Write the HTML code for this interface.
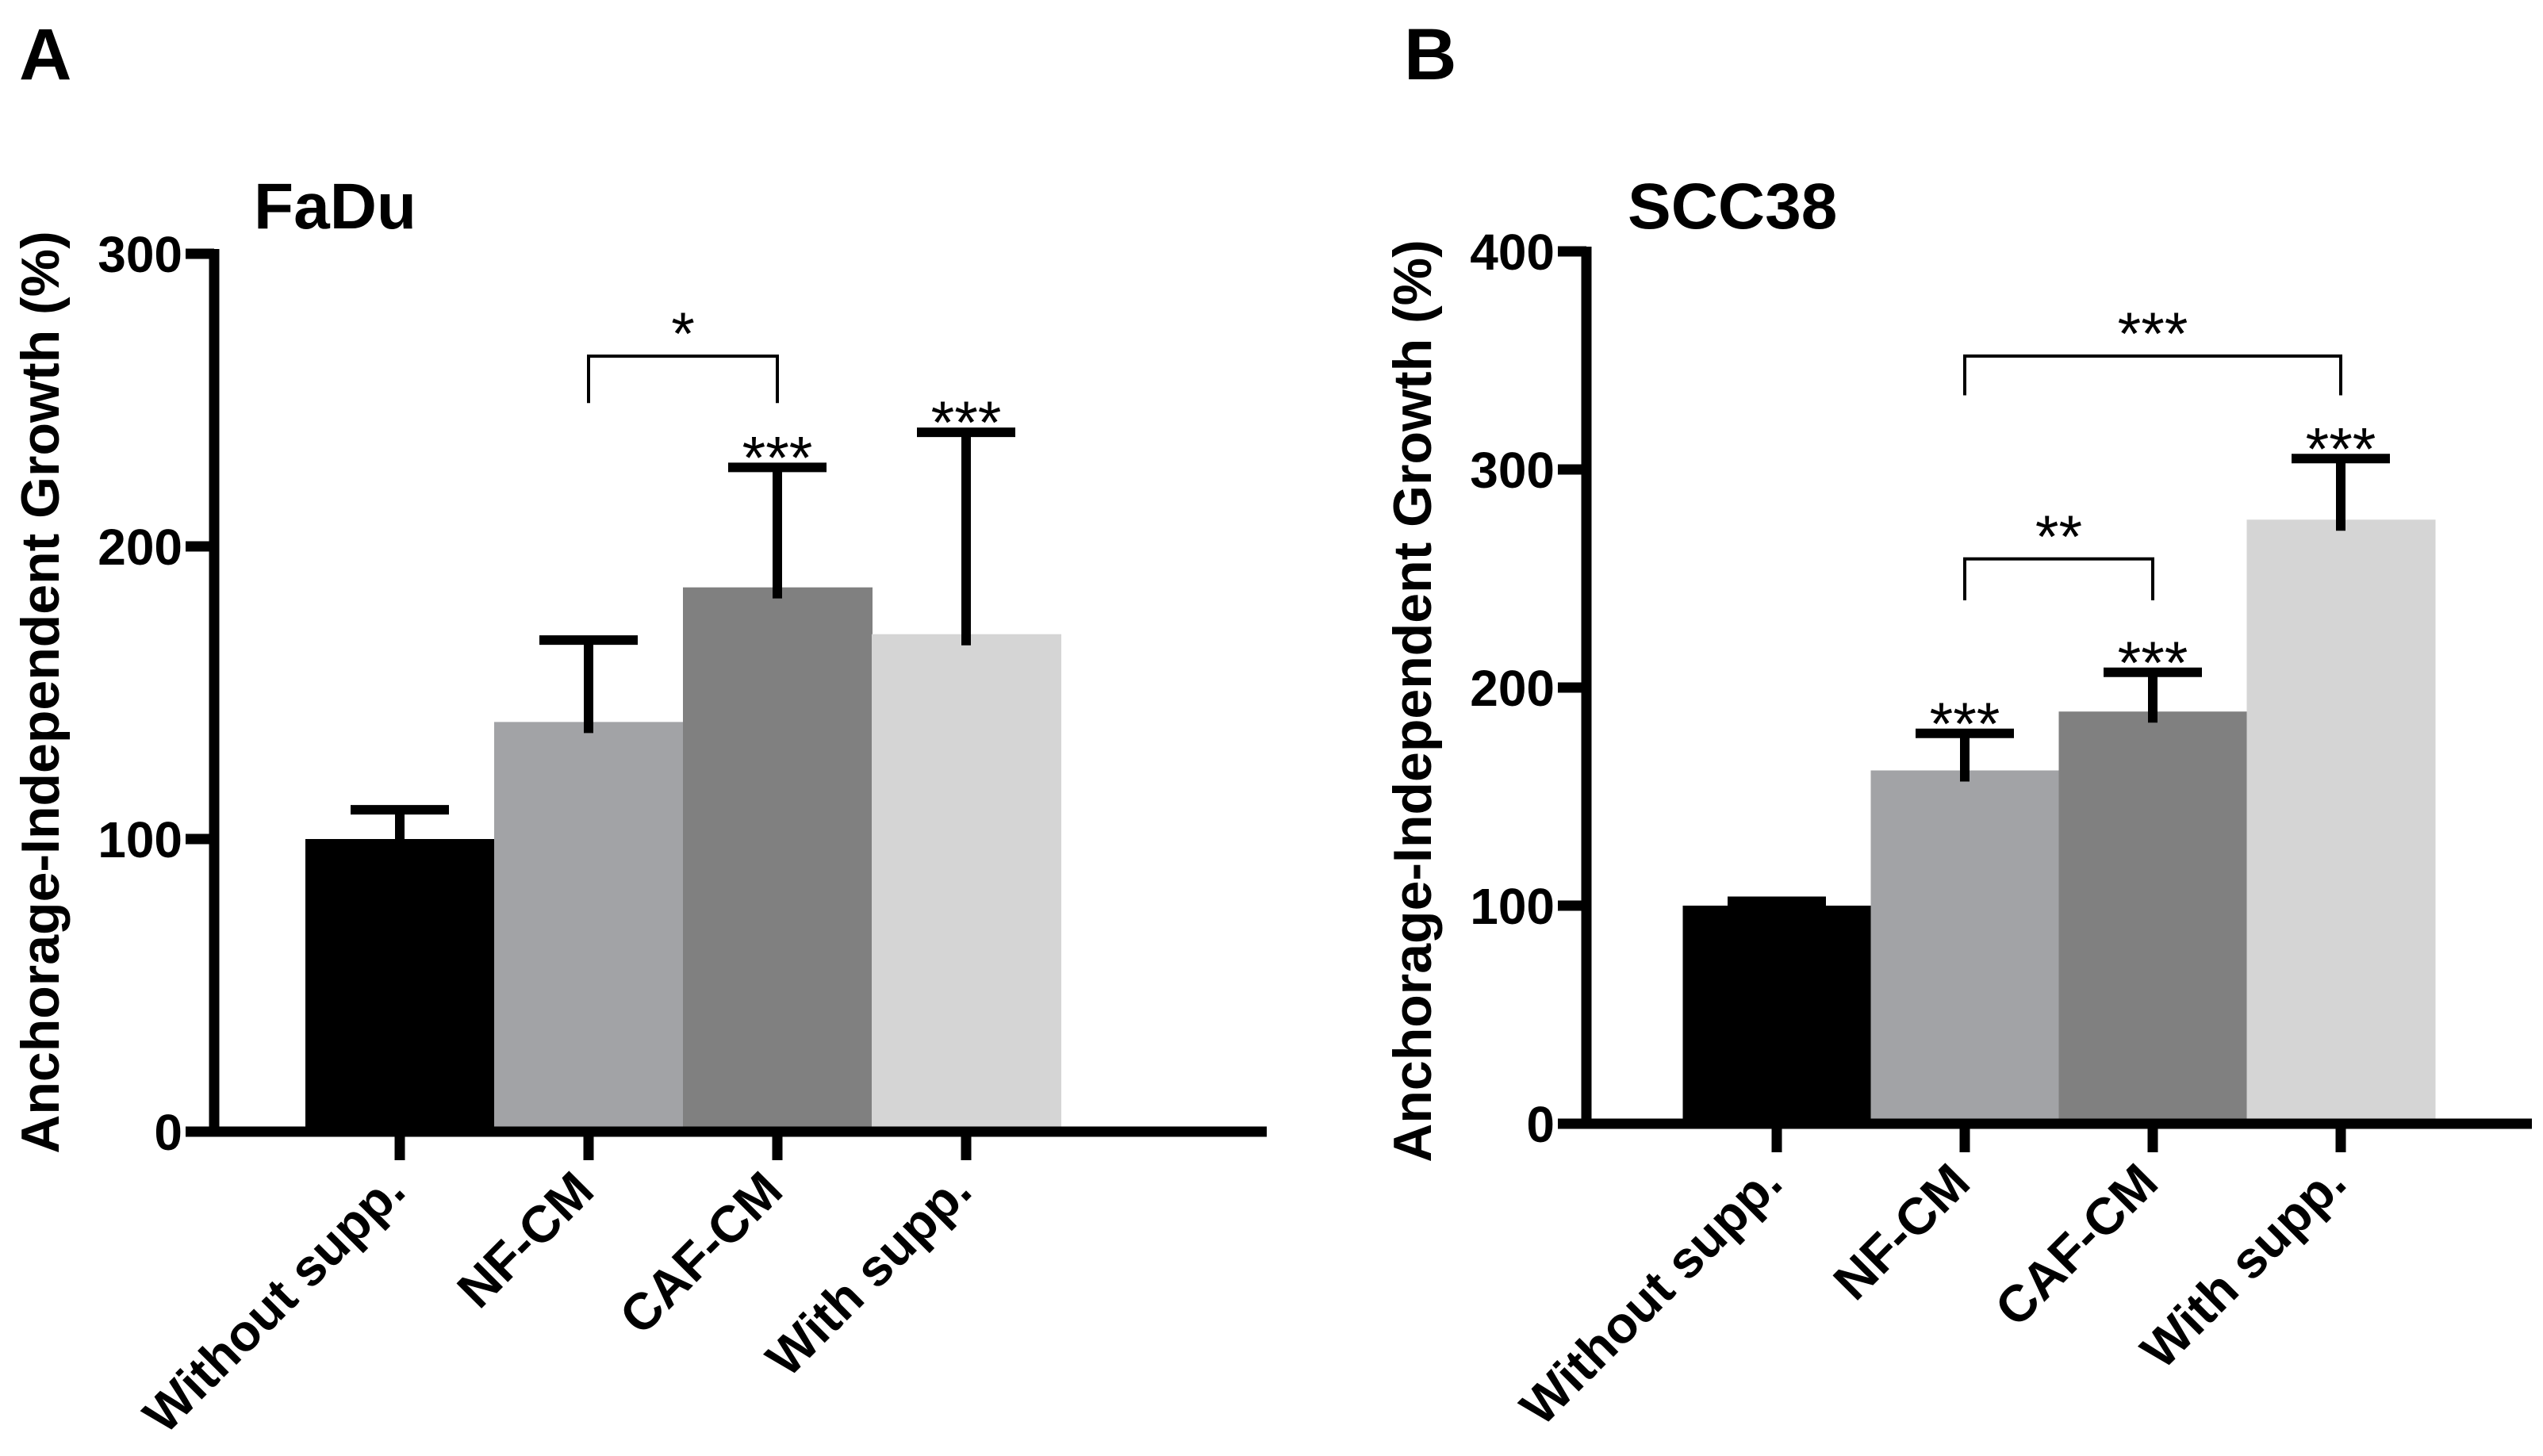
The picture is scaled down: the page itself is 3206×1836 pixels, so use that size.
<!DOCTYPE html>
<html><head><meta charset="utf-8"><style>
html,body{margin:0;padding:0;background:#fff;}
svg{display:block;font-family:"Liberation Sans",Arial,sans-serif;font-weight:bold;}
</style></head><body>
<svg id="fig" width="3206" height="1836" viewBox="0 0 3206 1836" xmlns="http://www.w3.org/2000/svg"></svg>
<script>
const categories = ["Without supp.", "NF-CM", "CAF-CM", "With supp."];
const barColors = ["#000000", "#a2a3a6", "#808080", "#d5d5d5"];
const faduValues = [100, 140, 186, 170];
const faduErrors = [110, 168, 227, 239];
const faduTicks = [0, 100, 200, 300];
const faduStars = ["", "", "***", "***"];
const faduBrackets = [{from:1, to:2, y:265, leg:249, label:"*"}];
const sccValues = [100, 162, 189, 277];
const sccErrors = [102, 179, 207, 305];
const sccTicks = [0, 100, 200, 300, 400];
const sccStars = ["", "***", "***", "***"];
const sccBrackets = [{from:1, to:3, y:352, leg:334, label:"***"},{from:1, to:2, y:259, leg:240, label:"**"}];

const NS = "http://www.w3.org/2000/svg";
const svg = document.getElementById("fig");
function mk(tag, attrs, parent, text){
  const e = document.createElementNS(NS, tag);
  for (const k in attrs) e.setAttribute(k, attrs[k]);
  if (text !== undefined) e.textContent = text;
  (parent || svg).appendChild(e);
  return e;
}

function panel(cfg){
  const g = mk("g", {});
  
  
  const yS = v => cfg.y0 - (v / cfg.ymax) * (cfg.y0 - cfg.yTop);
  const xS = i => cfg.firstTick + i * cfg.band;
  cfg.values.forEach((v, i) => {
    const b = mk("rect", {x: xS(i) - cfg.barW/2, y: yS(v), width: cfg.barW + 1, height: cfg.y0 - yS(v), fill: barColors[i]}, g);
    
    
  });
  cfg.errors.forEach((e, i) => {
    const eg = mk("g", {stroke: "#000", "stroke-width": 12, fill: "none"}, g);
    
    
    mk("line", {x1: xS(i), x2: xS(i), y1: yS(e), y2: yS(cfg.values[i]) + 14}, eg);
    mk("line", {x1: xS(i) - 62, x2: xS(i) + 62, y1: yS(e), y2: yS(e)}, eg);
    if (cfg.stars[i]) {
      const t = mk("text", {x: xS(i), y: yS(e) + 14, "text-anchor": "middle", "font-size": 76, fill: "#000", "font-weight": "normal"}, g, cfg.stars[i]);
      
      
    }
  });
  cfg.brackets.forEach((br, k) => {
    const x1 = xS(br.from), x2 = xS(br.to), y = yS(br.y), yl = yS(br.leg);
    const p = mk("path", {d: `M${x1} ${yl} V${y} H${x2} V${yl}`, stroke: "#000", "stroke-width": 4, fill: "none"}, g);
    
    
    const t = mk("text", {x: (x1 + x2)/2, y: y - 2, "text-anchor": "middle", "font-size": 76, fill: "#000", "font-weight": "normal"}, g, br.label);
    
    
  });
  const ax = mk("path", {d: `M${cfg.axisX} ${cfg.yTop - 6} V${cfg.y0} H${cfg.xEnd}`, stroke: "#000", "stroke-width": 13, fill: "none"}, g);
  
  
  cfg.ticks.forEach(tv => {
    mk("line", {x1: cfg.axisX - 36, x2: cfg.axisX, y1: yS(tv), y2: yS(tv), stroke: "#000", "stroke-width": 13}, g);
    const t = mk("text", {x: cfg.axisX - 40, y: yS(tv) + 23, "text-anchor": "end", "font-size": 64, fill: "#000"}, g, tv);
    
    
  });
  categories.forEach((c, i) => {
    mk("line", {x1: xS(i), x2: xS(i), y1: cfg.y0, y2: cfg.y0 + 36, stroke: "#000", "stroke-width": 13}, g);
    const t = mk("text", {transform: `translate(${xS(i) + 10},${cfg.y0 + 78}) rotate(-45)`, "text-anchor": "end", "font-size": 65, fill: "#000"}, g, c);
    
    
  });
  const yt = mk("text", {transform: `translate(${cfg.ytX},${cfg.ytY}) rotate(-90)`, "text-anchor": "middle", "font-size": 68, fill: "#000"}, g, "Anchorage-Independent Growth (%)");
  
  
  const ti = mk("text", {x: cfg.titleX, y: 288, "font-size": 82, fill: "#000"}, g, cfg.title);
  
  
  const pl = mk("text", {x: cfg.letterX, y: 100, "font-size": 92, fill: "#000"}, g, cfg.letter);
  
  
}

panel({name: "panel-a-fadu", values: faduValues, errors: faduErrors, ticks: faduTicks, stars: faduStars, brackets: faduBrackets,
  ymax: 300, y0: 1427, yTop: 320, axisX: 270, xEnd: 1597, firstTick: 504, band: 238, barW: 238,
  ytX: 74, ytY: 873, title: "FaDu", titleX: 320, letter: "A", letterX: 24});
panel({name: "panel-b-scc38", values: sccValues, errors: sccErrors, ticks: sccTicks, stars: sccStars, brackets: sccBrackets,
  ymax: 400, y0: 1417, yTop: 317, axisX: 2000, xEnd: 3192, firstTick: 2240, band: 237, barW: 237,
  ytX: 1804, ytY: 884, title: "SCC38", titleX: 2052, letter: "B", letterX: 1770});
</script>
</body></html>
